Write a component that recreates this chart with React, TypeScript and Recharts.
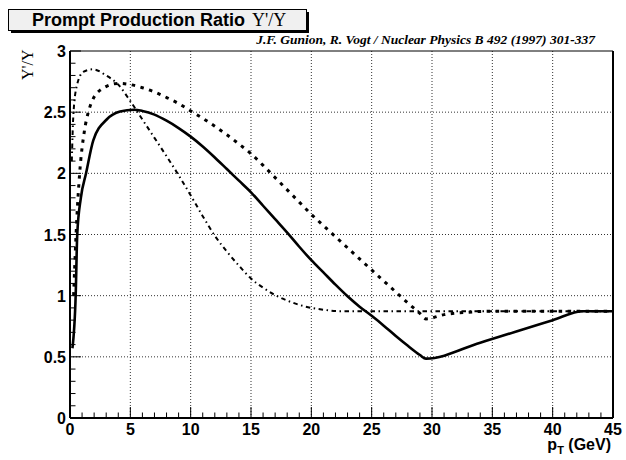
import React from 'react';
import { LineChart, Line, XAxis, YAxis, ReferenceLine } from 'recharts';

// ---- data ----
const solidPt = [0.2, 0.47, 0.6, 0.9, 1.33, 1.93, 3.04, 4.15, 5.3, 6, 7, 8, 9, 10, 11, 12, 13, 14, 15, 16, 17, 18, 19, 20, 21, 22, 23, 24, 25, 26, 27, 28, 29, 29.5, 34, 40, 42.5, 45];
const solidRatio = [0.57, 1.0, 1.5, 1.8, 2.0, 2.27, 2.44, 2.505, 2.52, 2.51, 2.48, 2.43, 2.37, 2.3, 2.22, 2.13, 2.035, 1.94, 1.845, 1.735, 1.625, 1.515, 1.4, 1.29, 1.19, 1.09, 0.995, 0.91, 0.835, 0.755, 0.67, 0.59, 0.515, 0.485, 0.616, 0.8, 0.873, 0.873];

const dashedPt = [0.3, 0.55, 0.8, 1.2, 1.52, 2.5, 4.0, 4.7, 6, 7, 8, 9, 10, 11, 12, 13, 14, 15, 16, 17, 18, 19, 20, 21, 22, 23, 24, 25, 26, 27, 28, 29, 29.5, 31, 33, 35, 45];
const dashedRatio = [1.0, 1.6, 2.0, 2.35, 2.5, 2.68, 2.735, 2.73, 2.7, 2.665, 2.62, 2.57, 2.51, 2.45, 2.385, 2.315, 2.24, 2.16, 2.065, 1.965, 1.865, 1.765, 1.665, 1.573, 1.482, 1.391, 1.3, 1.21, 1.12, 1.03, 0.94, 0.855, 0.81, 0.845, 0.865, 0.873, 0.873];

const dashDotPt = [0.15, 0.27, 0.55, 1.1, 1.9, 3, 4, 5, 6, 7, 8, 9, 10, 11, 12, 13, 14, 15, 16, 17, 18, 19, 20, 21, 22.4, 45];
const dashDotRatio = [2.1, 2.46, 2.71, 2.83, 2.85, 2.8, 2.725, 2.59, 2.44, 2.29, 2.14, 1.985, 1.82, 1.65, 1.49, 1.36, 1.245, 1.14, 1.065, 1.005, 0.96, 0.925, 0.9, 0.885, 0.873, 0.873];

const xTicks = [0, 1, 2, 3, 4, 5, 6, 7, 8, 9, 10, 11, 12, 13, 14, 15, 16, 17, 18, 19, 20, 21, 22, 23, 24, 25, 26, 27, 28, 29, 30, 31, 32, 33, 34, 35, 36, 37, 38, 39, 40, 41, 42, 43, 44, 45];
const xMajorTicks = [0, 5, 10, 15, 20, 25, 30, 35, 40, 45];
const yTicks = [0, 0.1, 0.2, 0.3, 0.4, 0.5, 0.6, 0.7, 0.8, 0.9, 1, 1.1, 1.2, 1.3, 1.4, 1.5, 1.6, 1.7, 1.8, 1.9, 2, 2.1, 2.2, 2.3, 2.4, 2.5, 2.6, 2.7, 2.8, 2.9, 3];
const yMajorTicks = [0, 0.5, 1, 1.5, 2, 2.5, 3];
const xGrid = [5, 10, 15, 20, 25, 30, 35, 40];
const yGrid = [0.5, 1, 1.5, 2, 2.5];

const titleText = 'Prompt Production Ratio';
const titleSymbol = "Υ'/Υ";
const citation = 'J.F. Gunion, R. Vogt / Nuclear Physics B 492 (1997) 301-337';

const toData = (xs: number[], ys: number[]) => xs.map((x, i) => ({ pt: x, ratio: ys[i] }));
const solidData = toData(solidPt, solidRatio);
const dashedData = toData(dashedPt, dashedRatio);
const dashDotData = toData(dashDotPt, dashDotRatio);

const SANS = '"Liberation Sans", Arial, Helvetica, sans-serif';
const SERIF = '"Liberation Serif", "Times New Roman", "DejaVu Serif", serif';

const isIn = (arr: number[], v: number) => arr.some((a) => Math.abs(a - v) < 1e-6);

const XTick = (props: any) => {
  const { x, y, payload } = props;
  const major = isIn(xMajorTicks, payload.value);
  return (
    <g>
      <line x1={x} x2={x} y1={y} y2={y - (major ? 11 : 5.5)} stroke="#000" strokeWidth={1} />
      {major && (
        <text x={x} y={y + 17} textAnchor="middle" fontFamily={SANS} fontWeight="bold" fontSize={16} fill="#000">
          {payload.value}
        </text>
      )}
    </g>
  );
};

const YTick = (props: any) => {
  const { x, y, payload } = props;
  const major = isIn(yMajorTicks, payload.value);
  return (
    <g>
      <line x1={x} x2={x + (major ? 11 : 5.5)} y1={y} y2={y} stroke="#000" strokeWidth={1} />
      {major && (
        <text x={x - 4} y={y + 6} textAnchor="end" fontFamily={SANS} fontWeight="bold" fontSize={16} fill="#000">
          {String(payload.value)}
        </text>
      )}
    </g>
  );
};

export default function App() {
  return (
    <div style={{ position: 'absolute', left: 0, top: 0, width: 626, height: 460, background: '#fff' }}>
      <LineChart width={626} height={460} margin={{ top: 51, right: 13, bottom: 0, left: 0 }}>
        {xGrid.map((v) => (
          <ReferenceLine key={'gx' + v} x={v} stroke="#333" strokeWidth={1} strokeDasharray="1 2" />
        ))}
        {yGrid.map((v) => (
          <ReferenceLine key={'gy' + v} y={v} stroke="#333" strokeWidth={1} strokeDasharray="1 2" />
        ))}
        <ReferenceLine y={3} stroke="#000" strokeWidth={1} />
        <ReferenceLine x={45} stroke="#000" strokeWidth={2} />
        <XAxis
          dataKey="pt"
          type="number"
          domain={[0, 45]}
          ticks={xTicks}
          interval={0}
          tickSize={0}
          tickMargin={0}
          tickLine={false}
          height={42}
          axisLine={{ stroke: '#000', strokeWidth: 2 }}
          tick={<XTick />}
          allowDataOverflow
        />
        <YAxis
          type="number"
          domain={[0, 3]}
          ticks={yTicks}
          interval={0}
          tickSize={0}
          tickMargin={0}
          tickLine={false}
          width={70}
          axisLine={{ stroke: '#000', strokeWidth: 2 }}
          tick={<YTick />}
          allowDataOverflow
        />
        <Line data={solidData} dataKey="ratio" type="monotone" stroke="#000" strokeWidth={2.6} dot={false} isAnimationActive={false} />
        <Line data={dashedData} dataKey="ratio" type="monotone" stroke="#000" strokeWidth={3} strokeDasharray="3.5 5.5" dot={false} isAnimationActive={false} />
        <Line data={dashDotData} dataKey="ratio" type="monotone" stroke="#000" strokeWidth={2} strokeDasharray="4.5 3.5 1.5 3.5" dot={false} isAnimationActive={false} />
      </LineChart>
      <svg width={626} height={460} style={{ position: 'absolute', left: 0, top: 0, pointerEvents: 'none' }}>
        <rect x={11} y={12} width={298} height={21} fill="#000" />
        <rect x={8.5} y={9.5} width={298} height={21} fill="#f0f0f0" stroke="#000" strokeWidth={1} />
        <text x={32} y={26} fontFamily={SANS} fontWeight="bold" fontSize={18} fill="#000">{titleText}</text>
        <text x={252} y={26} fontFamily={SERIF} fontSize={18} fill="#000">{titleSymbol}</text>
        <text x={595} y={44} textAnchor="end" fontFamily={SERIF} fontWeight="bold" fontStyle="italic" fontSize={13.5} fill="#000">{citation}</text>
        <text x={33} y={80} textAnchor="start" transform="rotate(-90 33 80)" fontFamily={SERIF} fontSize={16} fill="#000">{titleSymbol}</text>
        <text x={611} y={450} textAnchor="end" fontFamily={SANS} fontWeight="bold" fontSize={16} fill="#000">
          p<tspan fontSize={11} dy={4}>T</tspan><tspan dy={-4}> (GeV)</tspan>
        </text>
      </svg>
    </div>
  );
}
